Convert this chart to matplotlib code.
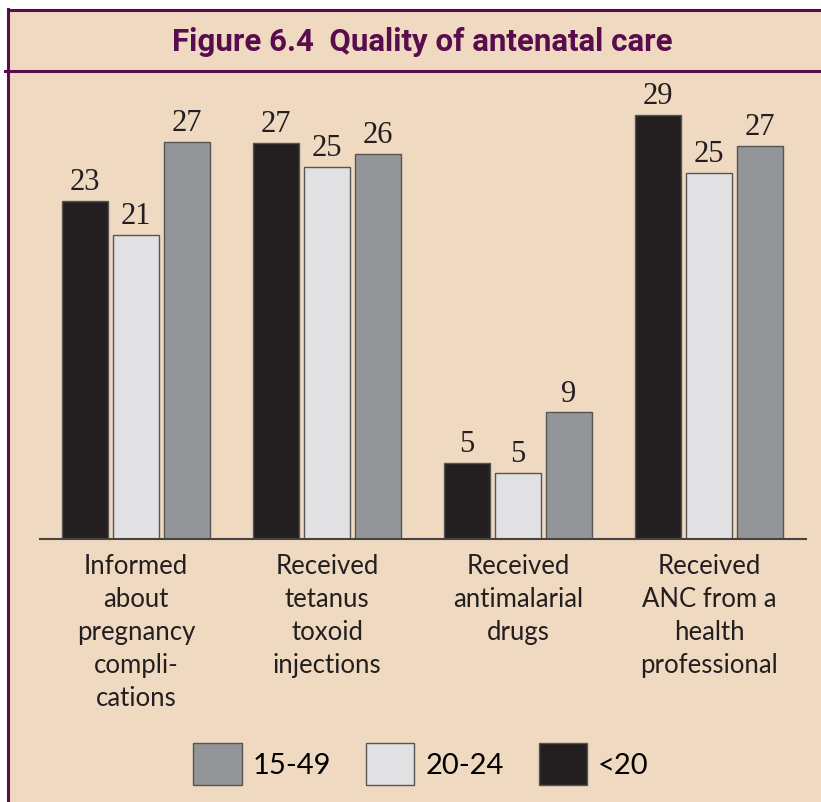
import numpy as np
import matplotlib
matplotlib.use("Agg")
import matplotlib.pyplot as plt
from matplotlib.lines import Line2D
from matplotlib.patches import Rectangle, Patch

categorias = ["Informed\nabout\npregnancy\ncompli-\ncations",
              "Received\ntetanus\ntoxoid\ninjections",
              "Received\nantimalarial\ndrugs",
              "Received\nANC from a\nhealth\nprofessional"]
menores_20 = [23.0, 26.9, 5.2, 28.8]
edad_20_24 = [20.7, 25.3, 4.5, 24.9]
edad_15_49 = [27.0, 26.2, 8.6, 26.7]
etiq_menores_20 = ["23", "27", "5", "29"]
etiq_20_24 = ["21", "25", "5", "25"]
etiq_15_49 = ["27", "26", "9", "27"]
series = ["<20", "20-24", "15-49"]
colores = ["#231f20", "#e1e1e3", "#939598"]

fondo = "#efd9c0"
morado = "#5a0d4c"

W, H = 821, 803
fig = plt.figure(figsize=(W / 100, H / 100), dpi=100)
fig.patch.set_facecolor("white")

# fondo beige y bordes
fig.add_artist(Rectangle((8 / W, 0), 1, 1 - 11 / H, transform=fig.transFigure,
                         facecolor=fondo, edgecolor="none", zorder=-10))
fig.add_artist(Line2D([8 / W, 8 / W], [0, 1 - 10 / H], color=morado, lw=2.2))
fig.add_artist(Line2D([8 / W, 1], [1 - 11 / H, 1 - 11 / H], color=morado, lw=2.2))
fig.add_artist(Line2D([5 / W, 1], [1 - 72 / H, 1 - 72 / H], color=morado, lw=2.2))

fig.text(422 / W, 1 - 42 / H, "Figure 6.4  Quality of antenatal care",
         ha="center", va="center", color=morado, fontsize=22.5,
         fontweight="bold", family="Roboto")

# ejes
ax = fig.add_axes([40 / W, (H - 540) / H, 766 / W, 460 / H])
ax.set_facecolor("none")
x = np.arange(len(categorias))
ancho = 46 / 191
paso = 51 / 191
datos = [menores_20, edad_20_24, edad_15_49]
etiquetas = [etiq_menores_20, etiq_20_24, etiq_15_49]
for i in range(3):
    barras = ax.bar(x + (i - 1) * paso, datos[i], width=ancho, color=colores[i],
                    edgecolor="#555555", linewidth=1, label=series[i])
    ax.bar_label(barras, labels=etiquetas[i], padding=3.5, fontsize=22,
                 color="#231f20", family="Liberation Serif")

ax.set_xlim(-0.503, 3.508)
ax.set_ylim(0, 460 / 14.71)
for s in ["top", "right", "left"]:
    ax.spines[s].set_visible(False)
ax.spines["bottom"].set_color("#444444")
ax.spines["bottom"].set_linewidth(1.5)
ax.set_yticks([])
ax.set_xticks(x)
ax.set_xticklabels(categorias, fontsize=18.5, family="Lato", color="#231f20",
                   linespacing=1.4, va="top")
ax.tick_params(axis="x", length=0, pad=10)

# leyenda
handles = [Patch(facecolor=colores[i], edgecolor="#555555", label=series[i])
           for i in [2, 1, 0]]
fig.legend(handles=handles, loc="center", bbox_to_anchor=(421 / W, 1 - 765 / H),
           ncol=3, frameon=False, prop={"family": "Lato", "size": 21},
           handlelength=1.65, handleheight=1.82, handletextpad=0.38,
           columnspacing=1.2, borderpad=0)

fig.savefig("out.png", dpi=100, facecolor=fig.get_facecolor())
